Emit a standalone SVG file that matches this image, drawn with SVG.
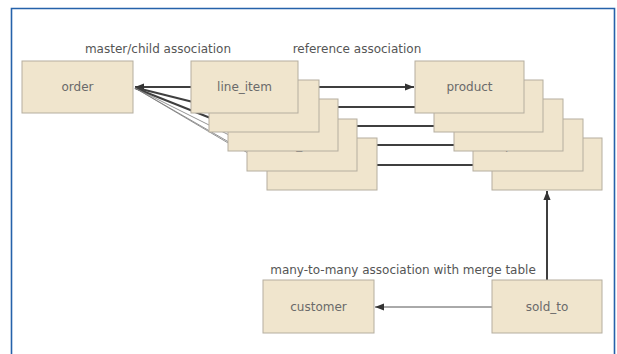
<svg xmlns="http://www.w3.org/2000/svg" width="617" height="354" viewBox="0 0 617 354">
<style>
.box{fill:#f0e5cd;stroke:#b5ae9f;stroke-width:1}
.lbl{font-family:"DejaVu Sans",sans-serif;font-size:12px;fill:#6a6a6a;text-anchor:middle}
.cap{font-family:"DejaVu Sans",sans-serif;font-size:12px;fill:#555;text-anchor:middle}
.thick{stroke:#3f3f3f;stroke-width:2;fill:none}
.thin{stroke:#777;stroke-width:0.8;fill:none}
.mid{stroke:#555;stroke-width:1;fill:none}
</style>
<defs>
<marker id="ahs" viewBox="0 0 10 10" refX="10" refY="5" markerWidth="9" markerHeight="9" orient="auto-start-reverse" markerUnits="userSpaceOnUse">
<path d="M0,1 L10,5 L0,9 z" fill="#333"/>
</marker>
</defs>
<rect x="0" y="0" width="617" height="354" fill="#ffffff"/>
<path d="M11.5,354 V8.5 H614.5 V354" fill="none" stroke="#2562aa" stroke-width="1.6"/>
<text class="cap" x="158" y="53">master/child association</text>
<text class="cap" x="357" y="53">reference association</text>
<text class="cap" x="403" y="274">many-to-many association with merge table</text>
<g id="connectors">
<line class="thick" x1="191" y1="87" x2="135" y2="87" marker-end="url(#ahs)"/>
<line class="thick" x1="209" y1="106" x2="135" y2="87.5"/>
<line class="thick" x1="228" y1="125" x2="135" y2="88"/>
<line class="thin" x1="247" y1="144" x2="135" y2="88"/>
<line class="thin" x1="267" y1="164" x2="135" y2="88"/>
<line class="thin" x1="240" y1="150" x2="135" y2="88"/>
<line class="thick" x1="298" y1="87" x2="414" y2="87" marker-end="url(#ahs)"/>
<line class="thick" x1="319" y1="107" x2="434" y2="107"/>
<line class="thick" x1="338" y1="126" x2="454" y2="126"/>
<line class="thick" x1="357" y1="145" x2="473" y2="145"/>
<line class="thick" x1="377" y1="165" x2="492" y2="165"/>
<line class="thick" x1="547" y1="280" x2="547" y2="191" marker-end="url(#ahs)"/>
<line class="mid" x1="492" y1="307" x2="375" y2="307" marker-end="url(#ahs)"/>
</g>
<g id="order"><rect class="box" x="22" y="61" width="111" height="52"/><text class="lbl" x="77.5" y="91">order</text></g>
<g id="line_item">
<g id="line_item_5"><rect class="box" x="267" y="138" width="110" height="52"/><text class="lbl" x="322" y="168">line_item</text></g>
<g id="line_item_4"><rect class="box" x="247" y="119" width="110" height="52"/><text class="lbl" x="302" y="149">line_item</text></g>
<g id="line_item_3"><rect class="box" x="228" y="99" width="110" height="52"/><text class="lbl" x="283" y="129">line_item</text></g>
<g id="line_item_2"><rect class="box" x="209" y="80" width="110" height="52"/><text class="lbl" x="264" y="110">line_item</text></g>
<g id="line_item_1"><rect class="box" x="191" y="61" width="107" height="52"/><text class="lbl" x="244.5" y="91">line_item</text></g>
</g>
<g id="product">
<g id="product_5"><rect class="box" x="492" y="138" width="110" height="52"/><text class="lbl" x="547" y="168">product</text></g>
<g id="product_4"><rect class="box" x="473" y="119" width="110" height="52"/><text class="lbl" x="528" y="149">product</text></g>
<g id="product_3"><rect class="box" x="454" y="99" width="109" height="52"/><text class="lbl" x="508.5" y="129">product</text></g>
<g id="product_2"><rect class="box" x="434" y="80" width="109" height="52"/><text class="lbl" x="488.5" y="110">product</text></g>
<g id="product_1"><rect class="box" x="415" y="61" width="109" height="52"/><text class="lbl" x="469.5" y="91">product</text></g>
</g>
<g id="customer"><rect class="box" x="263" y="280" width="111" height="53"/><text class="lbl" x="318.5" y="311">customer</text></g>
<g id="sold_to"><rect class="box" x="492" y="280" width="110" height="53"/><text class="lbl" x="547" y="311">sold_to</text></g>
</svg>
